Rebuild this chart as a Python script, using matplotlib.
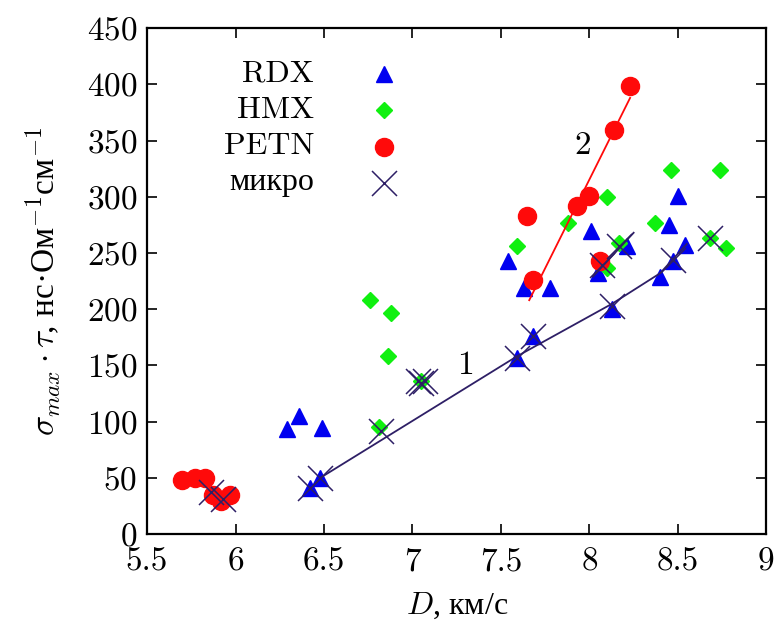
import numpy as np
import matplotlib
matplotlib.use("Agg")
import matplotlib.pyplot as plt

plt.rcParams["font.family"] = "serif"
plt.rcParams["font.serif"] = ["cmr10", "Liberation Serif"]
plt.rcParams["mathtext.fontset"] = "cm"
plt.rcParams["axes.formatter.use_mathtext"] = True

# ── data (D km/s, sigma*tau) ──────────────────────────────────────────────
rdx_d = [6.29, 6.36, 6.49, 6.42, 6.48, 7.54, 7.63, 7.78, 7.59, 7.68,
         8.01, 8.05, 8.21, 8.13, 8.40, 8.45, 8.50, 8.54, 8.47]
rdx_s = [93, 105, 94, 41, 50, 243, 219, 219, 157, 176,
         270, 232, 256, 200, 229, 275, 301, 257, 243]

hmx_d = [6.76, 6.88, 6.86, 6.81, 7.05, 7.59, 7.88, 8.10, 8.10, 8.17,
         8.37, 8.46, 8.74, 8.68, 8.77]
hmx_s = [208, 197, 158, 95, 136, 256, 277, 300, 237, 259,
         277, 324, 324, 263, 254]

petn_d = [5.70, 5.77, 5.83, 5.87, 5.92, 5.97, 7.65, 7.68, 7.93, 8.00,
          8.06, 8.14, 8.23]
petn_s = [48, 50, 50, 35, 29, 35, 283, 226, 292, 301,
          243, 359, 399]

micro_d = [5.86, 5.93, 6.42, 6.48, 6.82, 7.03, 7.05, 7.07, 7.59, 7.68,
           8.07, 8.13, 8.17, 8.47, 8.68]
micro_s = [37, 31, 41, 50, 92, 136, 134, 136, 157, 176,
           239, 203, 256, 244, 263]

# curve 1 (micro) and its short extra piece, curve 2 (PETN)
fit1_d = [6.48, 7.59, 8.13, 8.40, 8.55]
fit1_s = [50, 158, 205, 232, 258]
fit1b_d = [8.02, 8.25]
fit1b_s = [229, 268]
fit2_d = [7.66, 8.23]
fit2_s = [208, 388]

blue = "#0000f0"
green = "#10f010"
red = "#ff0a0a"
purple = "#2e1f66"

fig = plt.figure(figsize=(7.8, 6.41), dpi=100)
ax = fig.add_axes([0.1885, 0.167, 0.794, 0.789])

ax.plot(rdx_d, rdx_s, ls="none", marker="^", ms=11, color=blue, mec=blue)
ax.plot(hmx_d, hmx_s, ls="none", marker="D", ms=8.5, color=green, mec=green)
ax.plot(petn_d, petn_s, ls="none", marker="o", ms=13, color=red, mec=red)
ax.plot(fit2_d, fit2_s, color=red, lw=1.3)
ax.plot(fit1_d, fit1_s, color=purple, lw=1.3)
ax.plot(fit1b_d, fit1b_s, color=purple, lw=1.3)
ax.plot(micro_d, micro_s, ls="none", marker="x", ms=18, mew=1.1, color=purple)

ax.text(7.30, 150, "1", fontsize=24, ha="center", va="center")
ax.text(7.96, 346, "2", fontsize=24, ha="center", va="center")

# legend: right aligned labels, key on the right
leg_labels = ["RDX", "HMX", "PETN", "микро"]
leg_styles = [dict(marker="^", ms=11, color=blue, mec=blue),
              dict(marker="D", ms=8.5, color=green, mec=green),
              dict(marker="o", ms=13, color=red, mec=red),
              dict(marker="x", ms=18, mew=1.1, color=purple)]
for i, (lab, st) in enumerate(zip(leg_labels, leg_styles)):
    yy = 0.91 - i * 0.072
    ax.text(0.270, yy, lab, transform=ax.transAxes, ha="right", va="center",
            fontsize=23, family=["cmr10", "Liberation Serif"])
    ax.plot([0.383], [yy], transform=ax.transAxes, ls="none", **st)

ax.set_xlim(5.5, 9)
ax.set_ylim(0, 450)
ax.set_xticks(np.arange(5.5, 9.01, 0.5))
ax.set_xticklabels(["5.5", "6", "6.5", "7", "7.5", "8", "8.5", "9"])
ax.set_yticks(np.arange(0, 451, 50))
ax.tick_params(direction="in", length=7, width=1.2, top=True, right=True,
               labelsize=24)
ax.tick_params(axis="x", pad=10)
ax.tick_params(axis="y", pad=7)
for sp in ax.spines.values():
    sp.set_linewidth(1.6)

ax.set_xlabel(r"$D$, км/с", fontsize=23, family="Liberation Serif", labelpad=10)
ax.set_ylabel(r"$\sigma_{max}\cdot\tau$, нс·Ом$^{-1}$см$^{-1}$", fontsize=24,
              family="Liberation Serif", labelpad=16)

fig.savefig("out.png", dpi=100)
